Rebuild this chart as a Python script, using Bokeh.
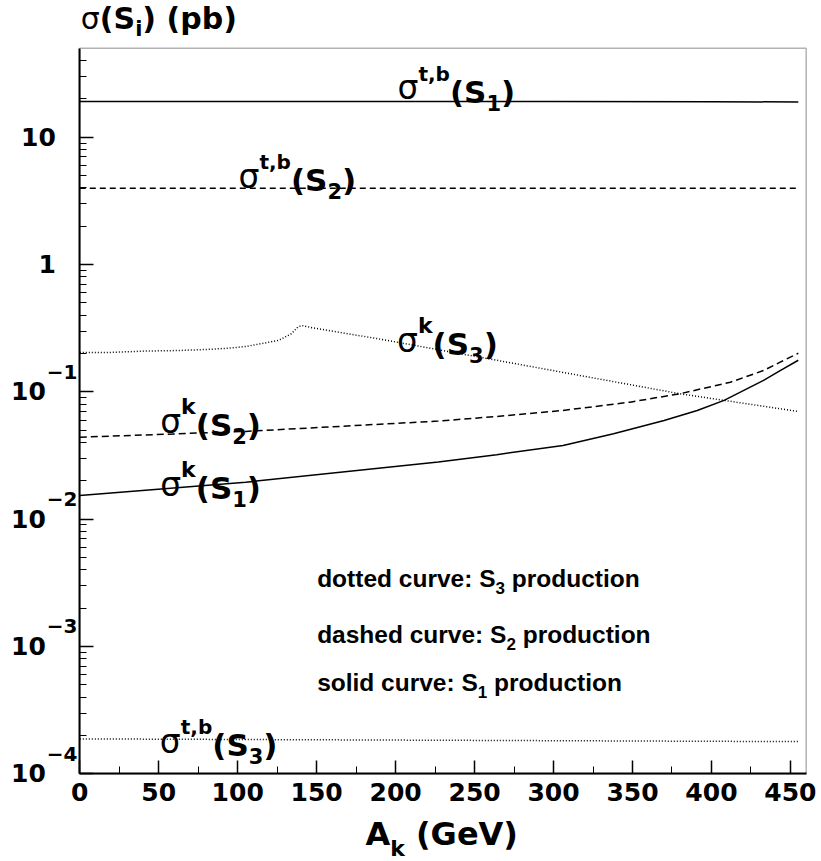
import math
from bokeh.plotting import figure
from bokeh.models import Label, FixedTicker, Range1d, CustomJSTickFormatter, BoxAnnotation
from bokeh.embed import file_html
from bokeh.resources import INLINE

# ---- cross sections (pb) versus A_k (GeV) ----
a_flat = [0, 100, 200, 300, 400, 455]
sig_tb_s1 = [19.1, 19.1, 19.1, 19.1, 19.0, 18.9]
sig_tb_s2 = [3.97, 3.97, 3.97, 3.97, 3.97, 3.97]
sig_tb_s3 = [1.88e-4, 1.86e-4, 1.84e-4, 1.82e-4, 1.80e-4, 1.79e-4]

a_k_s3 = [0, 20, 41, 62, 83, 94, 105, 115, 126, 134, 138, 140.5, 147, 189, 264, 380, 455]
sig_k_s3 = [0.204, 0.204, 0.209, 0.211, 0.216, 0.220, 0.227, 0.239, 0.254, 0.286,
            0.322, 0.332, 0.319, 0.261, 0.177, 0.0966, 0.0701]

a_k_s2 = [0, 105, 227, 264, 306, 348.5, 380, 412, 433, 443.5, 455]
sig_k_s2 = [0.044, 0.0489, 0.0589, 0.0641, 0.0714, 0.083, 0.0966, 0.119, 0.147, 0.171, 0.201]

a_k_s1 = [0, 105, 227, 264, 306, 338, 370, 391, 408, 433, 443.5, 455]
sig_k_s1 = [0.01535, 0.0195, 0.0281, 0.0321, 0.0379, 0.0469, 0.0596, 0.0714, 0.0857,
            0.123, 0.147, 0.177]

# ---- axis ticks ----
x_major = [0, 50, 100, 150, 200, 250, 300, 350, 400, 450]
x_tick_labels = ["0", "50", "100", "150", "200", "250", "300", "350", "400", "450"]
x_minor = [25, 75, 125, 175, 225, 275, 325, 375, 425]
y_decades = [1e-4, 1e-3, 1e-2, 1e-1, 1, 10]
y_base_labels = ["10", "10", "10", "10", "1", "10"]
y_exp_labels = ["\u22124", "\u22123", "\u22122", "\u22121", "", ""]
y_minor = [m * d for d in y_decades for m in range(2, 10) if m * d < 50]

# ---- canvas and plot box (pixels) ----
W, H = 821, 861
BOX_L, BOX_R, BOX_T, BOX_B = 79.3, 805.7, 47.7, 773.3
X0, X1 = 0, 460
Y0, Y1 = 1e-4, 50
px_per_x = (BOX_R - BOX_L) / (X1 - X0)
px_per_dec = (BOX_B - BOX_T) / (math.log10(Y1) - math.log10(Y0))
x_lo = X0 - BOX_L / px_per_x
x_hi = X1 + (W - BOX_R) / px_per_x
y_hi = Y1 * 10 ** (BOX_T / px_per_dec)
y_lo = Y0 / 10 ** ((H - BOX_B) / px_per_dec)

SANS = "DejaVu Sans"
ARIAL = "Liberation Sans"

# advance widths (em) used to chain the pieces of composite labels
ADV_DV_BOLD = {"(": 0.457, ")": 0.457, "S": 0.720, "t": 0.478, ",": 0.380, "b": 0.716,
               "k": 0.665, "i": 0.343, " ": 0.348, "p": 0.716, "A": 0.774, "G": 0.821,
               "e": 0.678, "V": 0.774}
ADV_DV = {"\u03c3": 0.634}
ADV_LIB_BOLD = {"d": 0.611, "o": 0.611, "t": 0.333, "e": 0.556, " ": 0.278, "c": 0.556,
                "u": 0.611, "r": 0.389, "v": 0.556, ":": 0.333, "S": 0.667, "a": 0.556,
                "s": 0.556, "h": 0.611, "l": 0.278, "i": 0.278, "p": 0.611, "n": 0.611}
# offset between the requested anchor and where the alphabetic baseline lands
BASE_FIX = {SANS: 0.40, ARIAL: 0.31}


def width(text, size, font, style):
    total = 0.0
    for c in text:
        if font == ARIAL:
            total += 0.556 if c.isdigit() else ADV_LIB_BOLD.get(c, 0.6)
        elif style == "bold":
            total += 0.696 if c.isdigit() else ADV_DV_BOLD.get(c, 0.6)
        else:
            total += ADV_DV.get(c, 0.6)
    return total * size


p = figure(width=W, height=H, output_backend="svg", toolbar_location=None,
           x_range=Range1d(x_lo, x_hi), y_range=Range1d(y_lo, y_hi), y_axis_type="log",
           min_border=0, background_fill_color="white", border_fill_color="white")
p.grid.visible = False
p.outline_line_color = None


def text_at(x, y, text, size, font="DejaVu Sans", style="bold", dx=0.0, dy=0.0, align="left"):
    p.add_layout(Label(x=x, y=y, x_offset=dx, y_offset=dy + BASE_FIX[font] * size, text=text,
                       text_font=font, text_font_size=f"{size}px", text_font_style=style,
                       text_color="black", text_align=align, text_baseline="alphabetic"))


def rich(x, y, pieces, dx0=0.0):
    """Place a run of text pieces side by side: (text, size, font, style, dy)."""
    dx = dx0
    for text, size, font, style, dy in pieces:
        lead = len(text) - len(text.lstrip(" "))
        dx += width(" " * lead, size, font, style)
        text = text.lstrip(" ")
        text_at(x, y, text, size, font, style, dx, dy)
        dx += width(text, size, font, style)


# ---- plot box ----
p.add_layout(BoxAnnotation(left=X0, right=X1, bottom=Y0, top=Y1, fill_color=None,
                           line_color="black", line_width=1.5))

# ---- curves ----
p.line(a_flat, sig_tb_s1, line_color="black", line_width=1.5)
p.line(a_flat, sig_tb_s2, line_color="black", line_width=1.5, line_dash="6 4")
p.line(a_flat, sig_tb_s3, line_color="black", line_width=1.5, line_dash="1 2")
p.line(a_k_s1, sig_k_s1, line_color="black", line_width=1.5)
p.line(a_k_s2, sig_k_s2, line_color="black", line_width=1.5, line_dash="7 4")
p.line(a_k_s3, sig_k_s3, line_color="black", line_width=1.5, line_dash="1 2")

# ---- axes, drawn along the edges of the plot box ----
xax = p.xaxis[0]
xax.fixed_location = Y0
xax.bounds = (X0, X1)
xax.ticker = FixedTicker(ticks=x_major, minor_ticks=x_minor)
yax = p.yaxis[0]
yax.fixed_location = X0
yax.bounds = (Y0, Y1)
yax.ticker = FixedTicker(ticks=y_decades, minor_ticks=y_minor)
for ax, major_len in ((xax, 13), (yax, 14)):
    ax.axis_line_width = 2
    ax.axis_line_color = "black"
    ax.major_tick_in = major_len
    ax.major_tick_out = 0
    ax.minor_tick_in = 7
    ax.minor_tick_out = 0
    ax.major_tick_line_width = 1.5
    ax.major_tick_line_color = "black"
    ax.minor_tick_line_color = "black"
    ax.formatter = CustomJSTickFormatter(code="return ''")
    ax.major_label_text_font_size = "0px"
    ax.major_label_standoff = 0
    ax.axis_label = None

# x tick labels
for val, lab in zip(x_major, x_tick_labels):
    text_at(val, Y0, lab, 25, dy=-28.5, align="center")

# y tick labels: mantissa with raised exponent
for val, base, ex in zip(y_decades, y_base_labels, y_exp_labels):
    if ex:
        text_at(X0, val, base, 25, dx=-34, dy=-9.5, align="right")
        text_at(X0, val, ex, 20, dx=-33, dy=12)
    else:
        text_at(X0, val, base, 25, dx=-24, dy=-9.5, align="right")

# axis titles
rich(X0, Y1, [("\u03c3", 30, SANS, "normal", 17.7), ("(S", 30, SANS, "bold", 17.7),
              ("i", 21, SANS, "bold", 10.7), (") (pb)", 30, SANS, "bold", 17.7)], dx0=1)
rich(180.9, Y0, [("A", 32, SANS, "bold", -72.7), ("k", 22, SANS, "bold", -83.7),
                 (" (GeV)", 32, SANS, "bold", -72.7)])


# ---- curve labels ----
def sigma_label(x, y, sup, sub):
    sup_size = 22 if sup == "k" else 20
    rich(x, y, [("\u03c3", 33, SANS, "normal", 3), (sup, sup_size, SANS, "bold", 22),
                ("(S", 31, SANS, "bold", 0), (sub, 21, SANS, "bold", -7),
                (")", 31, SANS, "bold", 0)])


sigma_label(201.2, 18.2, "t,b", "1")
sigma_label(100.5, 3.68, "t,b", "2")
sigma_label(200.9, 0.1895, "k", "3")
sigma_label(50.9, 0.0438, "k", "2")
sigma_label(50.9, 0.0140, "k", "1")
sigma_label(50.7, 1.35e-4, "t,b", "3")

# ---- line style key ----
for yv, word, idx in [(2.958e-3, "dotted", "3"), (1.080e-3, "dashed", "2"),
                      (4.512e-4, "solid", "1")]:
    rich(150.3, yv, [(f"{word} curve: S", 24.5, ARIAL, "bold", 0),
                     (idx, 17, ARIAL, "bold", -7),
                     (" production", 24.5, ARIAL, "bold", 0)])

open("out.html", "w").write(file_html(p, INLINE))
